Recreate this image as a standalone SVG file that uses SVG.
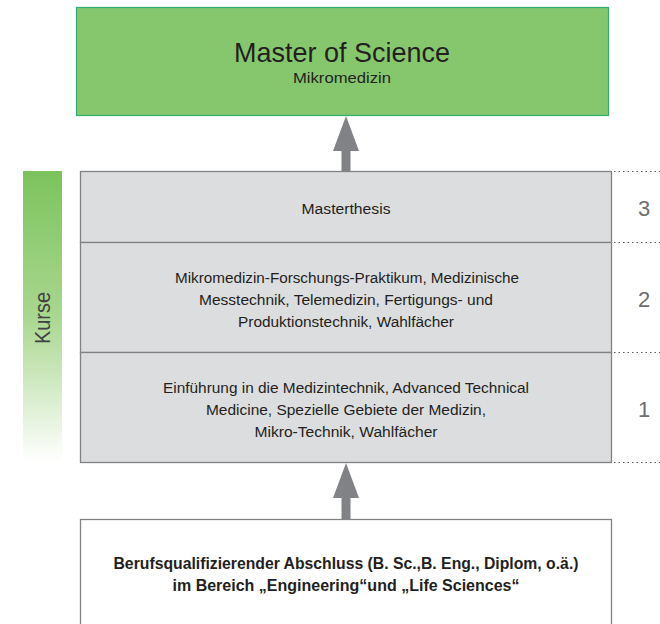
<svg xmlns="http://www.w3.org/2000/svg" width="660" height="624" viewBox="0 0 660 624">
<style>
text{font-family:"Liberation Sans",Arial,sans-serif;fill:#231f20;text-anchor:middle}
.t{font-size:15.5px}
.b{font-size:16px;font-weight:bold}
.n{font-size:22px;fill:#6d6e71}
.dot{stroke:#58595b;stroke-width:1.2;stroke-dasharray:1.5 3}
.arr{fill:#808285}
</style>
<defs>
<linearGradient id="kg" x1="0" y1="0" x2="0" y2="1">
<stop offset="0" stop-color="#7cc35c"/>
<stop offset="0.5" stop-color="#a9d78f"/>
<stop offset="1" stop-color="#ffffff"/>
</linearGradient>
</defs>
<g id="master">
<rect x="76.5" y="7.5" width="532" height="108" fill="#86c76e" stroke="#2fae72" stroke-width="1.2"/>
<text x="342" y="62" style="font-size:28px" textLength="216" lengthAdjust="spacingAndGlyphs">Master of Science</text>
<text x="342" y="83" style="font-size:15.5px" textLength="98" lengthAdjust="spacingAndGlyphs">Mikromedizin</text>
</g>
<g id="kurse">
<rect x="23" y="171" width="39" height="291" fill="url(#kg)"/>
<text transform="translate(50 318) rotate(-90)" style="font-size:22px;fill:#414042" textLength="52" lengthAdjust="spacingAndGlyphs">Kurse</text>
</g>
<g id="semester3">
<rect x="80.5" y="171.5" width="531" height="71" fill="#dcdddf" stroke="#808285" stroke-width="1.3"/>
<text class="t" x="346" y="214" textLength="89" lengthAdjust="spacingAndGlyphs">Masterthesis</text>
</g>
<g id="semester2">
<rect x="80.5" y="242.5" width="531" height="110" fill="#dcdddf" stroke="#808285" stroke-width="1.3"/>
<text class="t" x="347" y="283" textLength="344" lengthAdjust="spacingAndGlyphs">Mikromedizin-Forschungs-Praktikum, Medizinische</text>
<text class="t" x="346" y="305" textLength="294" lengthAdjust="spacingAndGlyphs">Messtechnik, Telemedizin, Fertigungs- und</text>
<text class="t" x="346" y="327" textLength="216" lengthAdjust="spacingAndGlyphs">Produktionstechnik, Wahlfächer</text>
</g>
<g id="semester1">
<rect x="80.5" y="352.5" width="531" height="110" fill="#dcdddf" stroke="#808285" stroke-width="1.3"/>
<text class="t" x="346" y="393" textLength="366" lengthAdjust="spacingAndGlyphs">Einführung in die Medizintechnik, Advanced Technical</text>
<text class="t" x="346" y="415" textLength="280" lengthAdjust="spacingAndGlyphs">Medicine, Spezielle Gebiete der Medizin,</text>
<text class="t" x="346" y="437" textLength="183" lengthAdjust="spacingAndGlyphs">Mikro-Technik, Wahlfächer</text>
</g>
<g id="numbers">
<line class="dot" x1="614" y1="171.5" x2="660" y2="171.5"/>
<line class="dot" x1="614" y1="242.5" x2="660" y2="242.5"/>
<line class="dot" x1="614" y1="352.5" x2="660" y2="352.5"/>
<line class="dot" x1="614" y1="462.5" x2="660" y2="462.5"/>
<text class="n" x="644" y="216">3</text>
<text class="n" x="644" y="307">2</text>
<text class="n" x="644" y="417">1</text>
</g>
<g id="voraussetzung">
<rect x="80.5" y="519.5" width="531" height="110" fill="#ffffff" stroke="#808285" stroke-width="1.3"/>
<text class="b" x="346" y="569" textLength="465" lengthAdjust="spacingAndGlyphs">Berufsqualifizierender Abschluss (B. Sc.,B. Eng., Diplom, o.ä.)</text>
<text class="b" x="346" y="591" textLength="347" lengthAdjust="spacingAndGlyphs">im Bereich „Engineering“und „Life Sciences“</text>
</g>
<g id="connectors">
<polygon class="arr" points="346,116 359,151 350.5,151 350.5,171 341.5,171 341.5,151 333,151"/>
<polygon class="arr" points="346,463 359,498 350.5,498 350.5,519 341.5,519 341.5,498 333,498"/>
</g>
</svg>
